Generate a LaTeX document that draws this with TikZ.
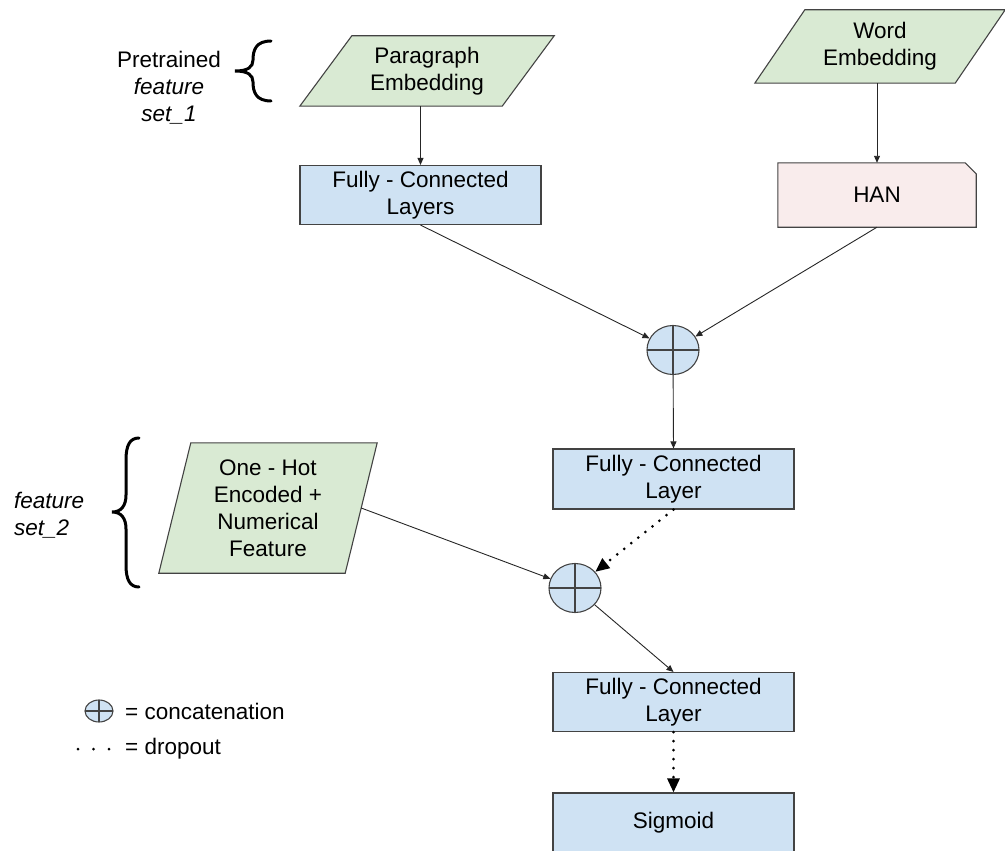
\documentclass[tikz,border=0pt]{standalone}
\usepackage{fontspec}
\setmainfont{Liberation Sans}
\usetikzlibrary{shapes.geometric,arrows.meta,backgrounds}
\definecolor{gfill}{HTML}{D9EAD3}
\definecolor{bfill}{HTML}{CFE2F3}
\definecolor{pfill}{HTML}{F9ECEC}
\definecolor{edge}{HTML}{434343}
\begin{document}
\begin{tikzpicture}[x=1pt,y=-1pt,
  font=\fontsize{22.5}{27}\selectfont,
  box/.style={draw=edge, fill=bfill, line width=1.1pt, minimum width=241pt, minimum height=59pt, align=center, inner sep=0pt},
  txt/.style={align=center, inner sep=0pt},
  shapeline/.style={draw=edge, line width=1.1pt},
  cat/.style={ellipse, draw=edge, fill=bfill, line width=1.1pt, minimum width=52pt, minimum height=49pt, inner sep=0pt,
    path picture={\draw[edge, line width=1.1pt] (path picture bounding box.north) -- (path picture bounding box.south) (path picture bounding box.west) -- (path picture bounding box.east);}},
  arr/.style={-{Triangle[length=7pt,width=6pt]}, line width=0.9pt, draw=black!85},
  dotarr/.style={line width=3pt, dash pattern=on 0pt off 9pt, line cap=round, -{Triangle[length=14pt,width=12pt]}},
  brace/.style={line width=3pt, line cap=round}
]
\useasboundingbox (0,0) rectangle (1005,851);

% nodes
\node[txt, minimum width=202pt, minimum height=70pt] (pe) at (427,71) {Paragraph\\Embedding};
\node[txt, minimum width=200pt, minimum height=73pt] (we) at (880,46.5) {Word\\Embedding};
\node[txt, minimum width=186pt, minimum height=130pt] (oh) at (268,508) {One - Hot\\Encoded +\\Numerical\\Feature};
\node[box] (fc1) at (420.5,195) {Fully - Connected\\Layers};
\node[txt, minimum width=198pt, minimum height=64pt] (han) at (877,195) {HAN};
\node[cat] (c1) at (673,350) {};
\node[box, minimum height=60pt] (fc2) at (673.5,479) {Fully - Connected\\Layer};
\node[cat] (c2) at (575,588) {};
\node[box] (fc3) at (673.5,702) {Fully - Connected\\Layer};
\node[box, minimum height=60pt] (sig) at (673.5,823) {Sigmoid};

% side labels
\node[txt] (l1) at (169,88) {Pretrained\\\textit{feature}\\\textit{set\_1}};
\node[txt, align=left, anchor=west] (l2) at (14,515) {\textit{feature}\\\textit{set\_2}};

% legend
\node[cat, minimum width=28pt, minimum height=22pt] (lc) at (99,711) {};
\node[txt, anchor=west] (lct) at (125,711) {= concatenation};
\node[txt, anchor=west] (ldt) at (125,749) {= dropout};
\draw[line width=3pt, dash pattern=on 0pt off 15.5pt, line cap=round] (78,749) -- (109.2,749);

% shapes behind text
\begin{scope}[on background layer]
\filldraw[shapeline, fill=gfill] ([xshift=26pt]pe.north west) -- ([xshift=26pt]pe.north east) -- ([xshift=-26pt]pe.south east) -- ([xshift=-26pt]pe.south west) -- cycle;
\filldraw[shapeline, fill=gfill] ([xshift=25pt]we.north west) -- ([xshift=25pt]we.north east) -- ([xshift=-25pt]we.south east) -- ([xshift=-25pt]we.south west) -- cycle;
\filldraw[shapeline, fill=gfill] ([xshift=16pt]oh.north west) -- ([xshift=16pt]oh.north east) -- ([xshift=-16pt]oh.south east) -- ([xshift=-16pt]oh.south west) -- cycle;
\filldraw[shapeline, fill=pfill] (han.south west) -- (han.north west) -- ([xshift=-11pt]han.north east) -- ([yshift=-11pt]han.north east) -- (han.south east) -- cycle;
\end{scope}

% braces
\draw[brace] (271,41) .. controls (256,41) and (253,50) .. (253,60) .. controls (253,67) and (248,71) .. (235,71) .. controls (248,71) and (253,75) .. (253,82) .. controls (253,92) and (256,101) .. (271,101);
\draw[brace] (139,438) .. controls (130,438) and (126,445) .. (126,460) -- (126,495) .. controls (126,506) and (121,512) .. (112,512) .. controls (121,512) and (126,518) .. (126,529) -- (126,565) .. controls (126,580) and (130,587) .. (139,587);

% connectors
\draw[arr] (fc1.north |- pe.south) -- (fc1.north);
\draw[arr] (han.north |- we.south) -- (han.north);
\draw[arr] (fc1.south) -- (c1);
\draw[arr] (han.south) -- (c1);
\draw[arr] (c1) -- (fc2.north);
\draw[dotarr] (fc2.south) -- (c2);
\draw[arr] (oh.east) -- (c2);
\draw[arr] (c2) -- (fc3.north);
\draw[dotarr] (fc3.south) -- (sig.north);
\end{tikzpicture}
\end{document}
